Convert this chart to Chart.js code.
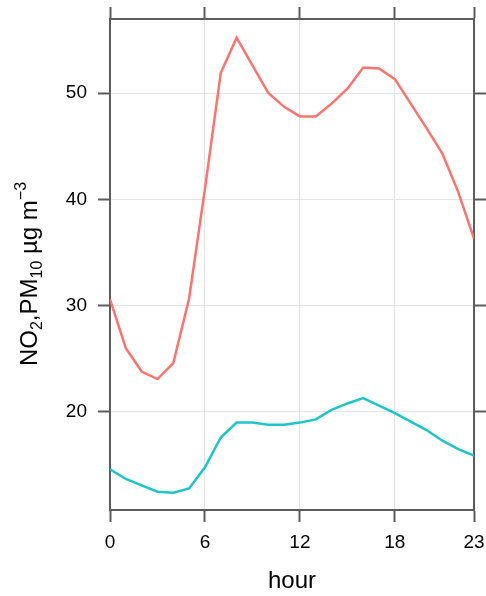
<!DOCTYPE html>
<html>
<head>
<meta charset="utf-8">
<script src="https://cdn.jsdelivr.net/npm/chart.js@4/dist/chart.umd.min.js"></script>
<style>
html,body{margin:0;padding:0;background:#fff;}
#wrap{width:486px;height:596px;position:relative;}
</style>
</head>
<body>
<div id="wrap"><canvas id="c" width="486" height="596"></canvas></div>
<script>
const hours = [0,1,2,3,4,5,6,7,8,9,10,11,12,13,14,15,16,17,18,19,20,21,22,23];
const no2 = [30.6,26.0,23.8,23.1,24.6,30.7,41.0,51.9,55.2,52.6,50.0,48.7,47.8,47.8,49.0,50.4,52.4,52.3,51.3,49.0,46.7,44.3,40.7,36.3];
const pm10 = [14.6,13.7,13.1,12.5,12.4,12.8,14.8,17.6,19.0,19.0,18.8,18.8,19.0,19.3,20.2,20.8,21.3,20.6,19.9,19.1,18.3,17.3,16.5,15.9];
const xTicks = [0,6,12,18,23];
const yTicks = [20,30,40,50];
const xTitle = 'hour';
const yTitleParts = [['NO',''],['2','sub'],[',PM',''],['10','sub'],[' \u00b5g m',''],['\u22123','sup']];

const FONT = '"Liberation Sans", Arial, Helvetica, sans-serif';
const frameColor = '#5c5c5c';
const gridColor = '#e4e4e4';

function setTicks(vals){ return function(axis){ axis.ticks = vals.map(v=>({value:v})); }; }

const yTitlePlugin = {
  id:'yTitle',
  afterDraw(chart){
    const ctx = chart.ctx;
    const size = 24;
    const subSize = 16;
    const pieces = yTitleParts.map(([t,k])=>{
      const fs = k ? subSize : size;
      ctx.font = fs + 'px ' + FONT;
      return {t,k,fs,w:ctx.measureText(t).width};
    });
    const total = pieces.reduce((a,p)=>a+p.w,0);
    const cy = 274;
    const bx = 37;
    ctx.save();
    ctx.translate(bx, cy);
    ctx.rotate(-Math.PI/2);
    ctx.fillStyle = '#000';
    ctx.textBaseline = 'alphabetic';
    let x = -total/2;
    for(const p of pieces){
      ctx.font = p.fs + 'px ' + FONT;
      let dy = 0;
      if(p.k==='sub') dy = 5;
      if(p.k==='sup') dy = -11;
      ctx.fillText(p.t, x, dy);
      x += p.w;
    }
    ctx.restore();
  }
};

const commonGrid = {color:gridColor, lineWidth:1, tickColor:frameColor, tickWidth:2, tickLength:12, drawTicks:true};
const border = {display:true, color:frameColor, width:2};

new Chart(document.getElementById('c'), {
  type:'line',
  data:{
    labels: hours,
    datasets:[
      {label:'NO2', data: hours.map((h,i)=>({x:h,y:no2[i]})), borderColor:'#fa7470', borderWidth:2.5, pointRadius:0, tension:0, fill:false},
      {label:'PM10', data: hours.map((h,i)=>({x:h,y:pm10[i]})), borderColor:'#1fc4c6', borderWidth:2.5, pointRadius:0, tension:0, fill:false}
    ]
  },
  options:{
    responsive:false,
    animation:false,
    layout:{padding:0},
    plugins:{legend:{display:false}, tooltip:{enabled:false}, title:{display:false}},
    scales:{
      x:{type:'linear', position:'bottom', min:0, max:23,
         afterBuildTicks:setTicks(xTicks),
         afterFit(s){ s.height = 86; s.paddingLeft = 0; s.paddingRight = 0; },
         grid:commonGrid, border:border,
         ticks:{font:{family:FONT,size:19}, color:'#000', padding:9, maxRotation:0, autoSkip:false},
         title:{display:true, text:xTitle, font:{family:FONT,size:24}, color:'#000', padding:{top:0,bottom:0}}},
      x2:{type:'linear', position:'top', min:0, max:23,
         afterBuildTicks:setTicks(xTicks),
         afterFit(s){ s.height = 19; s.paddingLeft = 0; s.paddingRight = 0; },
         grid:Object.assign({},commonGrid,{drawOnChartArea:false}), border:border,
         ticks:{display:false}},
      y:{type:'linear', position:'left', min:10.78, max:56.96,
         afterBuildTicks:setTicks(yTicks),
         afterFit(s){ s.width = 110; s.paddingTop = 0; s.paddingBottom = 0; },
         grid:commonGrid, border:border,
         ticks:{font:{family:FONT,size:19}, color:'#000', padding:11}},
      y2:{type:'linear', position:'right', min:10.78, max:56.96,
         afterBuildTicks:setTicks(yTicks),
         afterFit(s){ s.width = 12; s.paddingTop = 0; s.paddingBottom = 0; },
         grid:Object.assign({},commonGrid,{drawOnChartArea:false}), border:border,
         ticks:{display:false}}
    }
  },
  plugins:[yTitlePlugin]
});
</script>
</body>
</html>
